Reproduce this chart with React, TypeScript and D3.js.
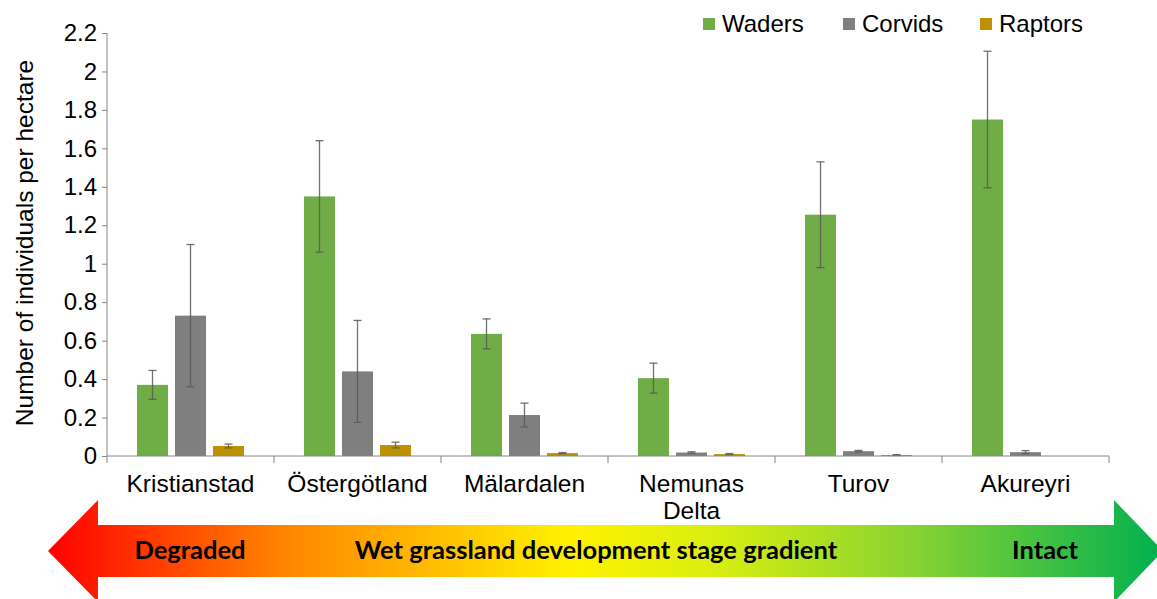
import React, { useRef, useEffect } from 'react';
import * as d3 from 'd3';

const categories = ['Kristianstad', 'Östergötland', 'Mälardalen', 'Nemunas Delta', 'Turov', 'Akureyri'];
const categoryLines = [['Kristianstad'], ['Östergötland'], ['Mälardalen'], ['Nemunas', 'Delta'], ['Turov'], ['Akureyri']];
const seriesNames = ['Waders', 'Corvids', 'Raptors'];
const seriesColors = ['#70AD47', '#7F7F7F', '#BF9000'];

const waders = [0.37, 1.35, 0.635, 0.405, 1.255, 1.75];
const wadersErr = [0.075, 0.29, 0.078, 0.078, 0.275, 0.355];
const corvids = [0.73, 0.44, 0.213, 0.018, 0.025, 0.02];
const corvidsErr = [0.37, 0.265, 0.062, 0.004, 0.004, 0.008];
const raptors = [0.052, 0.057, 0.015, 0.01, 0.005, 0];
const raptorsErr = [0.01, 0.015, 0.003, 0.003, 0.002, 0];

const yTicks = [0, 0.2, 0.4, 0.6, 0.8, 1, 1.2, 1.4, 1.6, 1.8, 2, 2.2];
const yTitle = 'Number of individuals per hectare';
const arrowLabels = ['Degraded', 'Wet grassland development stage gradient', 'Intact'];

const W = 1157;
const H = 599;
const FONT = "Arial, 'Liberation Sans', sans-serif";

const App = () => {
  const svgRef = useRef<SVGSVGElement>(null);

  useEffect(() => {
    const svg = d3.select(svgRef.current);
    svg.selectAll('*').remove();

    const values = [waders, corvids, raptors];
    const errors = [wadersErr, corvidsErr, raptorsErr];

    const x = d3.scaleBand().domain(categories).range([107, 1109]);
    const xs = d3.scaleBand().domain(seriesNames).range([0, x.bandwidth()])
      .paddingInner(0.184).paddingOuter(0.79);
    const y = d3.scaleLinear().domain([0, 2.2]).range([456, 33]);

    // gradient arrow
    const grad = svg.append('defs').append('linearGradient')
      .attr('id', 'arrowGrad')
      .attr('gradientUnits', 'userSpaceOnUse')
      .attr('x1', 48).attr('x2', 1163).attr('y1', 0).attr('y2', 0);
    [[0, '#FF0000'], [0.21, '#FF8400'], [0.47, '#FFF200'], [0.6, '#D8EE10'], [0.78, '#86D232'], [1, '#00B050']]
      .forEach(([o, c]) => grad.append('stop').attr('offset', o as number).attr('stop-color', c as string));

    const ay = 551, bodyH = 26, headH = 51, tipL = 48, baseL = 98, baseR = 1114, tipR = 1163;
    svg.append('path')
      .attr('d', `M${tipL},${ay} L${baseL},${ay - headH} L${baseL},${ay - bodyH} L${baseR},${ay - bodyH} L${baseR},${ay - headH} L${tipR},${ay} L${baseR},${ay + headH} L${baseR},${ay + bodyH} L${baseL},${ay + bodyH} L${baseL},${ay + headH} Z`)
      .attr('fill', 'url(#arrowGrad)');

    const arrowX = [190, 596, 1045];
    arrowLabels.forEach((t, i) => {
      svg.append('text')
        .attr('x', arrowX[i]).attr('y', 559)
        .attr('text-anchor', 'middle')
        .attr('font-family', 'Lato, sans-serif')
        .attr('font-weight', 'bold')
        .attr('font-size', 25.5)
        .attr('fill', '#000')
        .text(t);
    });

    // y axis
    const yAxis = svg.append('g')
      .attr('transform', 'translate(107,0)')
      .call(d3.axisLeft(y).tickValues(yTicks).tickSize(5).tickPadding(5).tickFormat(d => d3.format('~g')(d as number)));
    yAxis.select('.domain').attr('stroke', '#868686').attr('d', `M-0,${y(2.2)}V${y(0)}`);
    yAxis.selectAll('.tick line').attr('stroke', '#868686');
    yAxis.selectAll('.tick text').attr('font-family', FONT).attr('font-size', 24).attr('fill', '#000');

    // bars
    seriesNames.forEach((s, si) => {
      svg.append('g').selectAll('rect')
        .data(categories)
        .enter()
        .append('rect')
        .attr('x', c => (x(c) as number) + (xs(s) as number))
        .attr('y', (c, i) => y(values[si][i]))
        .attr('width', xs.bandwidth())
        .attr('height', (c, i) => y(0) - y(values[si][i]))
        .attr('fill', seriesColors[si]);
    });

    // error bars
    seriesNames.forEach((s, si) => {
      const g = svg.append('g').attr('stroke', '#595959').attr('stroke-width', 1.3).attr('stroke-opacity', 0.85);
      categories.forEach((c, i) => {
        if (values[si][i] === 0) return;
        const cx = (x(c) as number) + (xs(s) as number) + xs.bandwidth() / 2;
        const lo = y(values[si][i] - errors[si][i]);
        const hi = y(values[si][i] + errors[si][i]);
        g.append('line').attr('x1', cx).attr('x2', cx).attr('y1', lo).attr('y2', hi);
        g.append('line').attr('x1', cx - 4).attr('x2', cx + 4).attr('y1', lo).attr('y2', lo);
        g.append('line').attr('x1', cx - 4).attr('x2', cx + 4).attr('y1', hi).attr('y2', hi);
      });
    });

    // x axis
    const xAxis = svg.append('g').attr('stroke', '#868686');
    xAxis.append('line').attr('x1', 107).attr('x2', 1109).attr('y1', y(0)).attr('y2', y(0));
    [...categories.map(c => x(c) as number), 1109].forEach(px => {
      xAxis.append('line').attr('x1', px).attr('x2', px).attr('y1', y(0)).attr('y2', y(0) + 7);
    });

    categories.forEach((c, i) => {
      const t = svg.append('text')
        .attr('x', (x(c) as number) + x.bandwidth() / 2)
        .attr('y', 492)
        .attr('text-anchor', 'middle')
        .attr('font-family', FONT)
        .attr('font-size', 24.5)
        .attr('fill', '#000');
      categoryLines[i].forEach((line, li) => {
        t.append('tspan')
          .attr('x', (x(c) as number) + x.bandwidth() / 2)
          .attr('dy', li === 0 ? 0 : 27)
          .text(line);
      });
    });

    // y title
    svg.append('text')
      .attr('transform', 'translate(33,243) rotate(-90)')
      .attr('text-anchor', 'middle')
      .attr('font-family', FONT)
      .attr('font-size', 24.5)
      .attr('fill', '#000')
      .text(yTitle);

    // legend
    const legendX = [703, 843, 980];
    seriesNames.forEach((s, i) => {
      svg.append('rect')
        .attr('x', legendX[i]).attr('y', 18).attr('width', 12).attr('height', 12)
        .attr('fill', seriesColors[i]);
      svg.append('text')
        .attr('x', legendX[i] + 19).attr('y', 32)
        .attr('font-family', FONT)
        .attr('font-size', 24)
        .attr('fill', '#000')
        .text(s);
    });
  }, []);

  return (
    <svg ref={svgRef} width={W} height={H}
      style={{ position: 'absolute', left: 0, top: 0, background: '#fff' }} />
  );
};

export default App;
